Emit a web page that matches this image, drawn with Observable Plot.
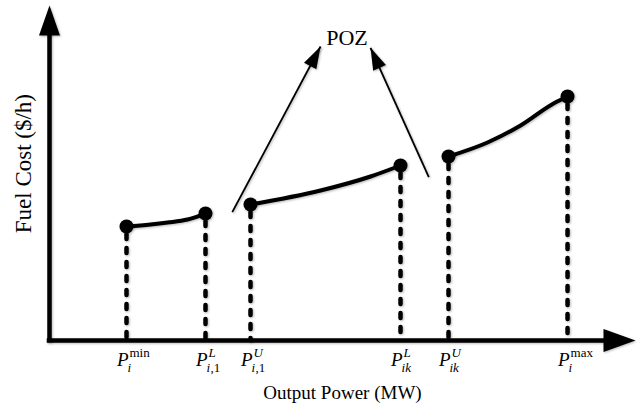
<!DOCTYPE html>
<html>
<head>
<meta charset="utf-8">
<script src="https://cdn.jsdelivr.net/npm/d3@7"></script>
<script src="https://cdn.jsdelivr.net/npm/@observablehq/plot@0.6"></script>
<style>
  html, body { margin: 0; padding: 0; background: #fff; }
  #chart svg { display: block; }
  #chart svg g[aria-label="line"],
  #chart svg g[aria-label="dot"],
  #chart svg g[aria-label="rule"],
  #chart svg g[aria-label="link"],
  #chart svg g[aria-label="vector"] {
    filter: drop-shadow(1.5px 1.5px 0.8px rgba(0,0,0,0.28));
  }
</style>
</head>
<body>
<div id="chart"></div>
<script>
// ---- data (schematic units: output power 0..100, fuel cost 0..100) ----
// Operating-region breakpoints
const breakX = [13.14, 26.62, 34.30, 59.90, 68.09, 88.40];
const breakY = [34.03, 37.91, 40.60, 52.24, 54.93, 72.84];
// Tick labels: P with superscript and subscript
const tickBase = ["P", "P", "P", "P", "P", "P"];
const tickSup = ["min", "L", "U", "L", "U", "max"];
const tickSupItalic = [false, true, true, true, true, false];
const tickSub = ["i", "i", "i", "ik", "ik", "i"];
const tickSubExtra = ["", ",1", ",1", "", "", ""];

// Cost curve segments
const seg1X = [13.14, 17.24, 20.14, 23.55, 26.62];
const seg1Y = [34.03, 34.63, 35.22, 36.12, 37.91];
const seg2X = [34.30, 46.25, 54.78, 59.90];
const seg2Y = [40.60, 44.78, 48.96, 52.24];
const seg3X = [68.09, 74.74, 80.38, 86.01, 88.40];
const seg3Y = [54.93, 59.10, 64.18, 70.75, 72.84];

// POZ annotation arrows
const pozFromX = [31.19, 64.73];
const pozFromY = [38.30, 48.75];
const pozToX = [46.25, 54.78];
const pozToY = [87.76, 87.37];
const pozLabel = ["POZ"];
const pozLabelX = [50.77];
const pozLabelY = [88.06];

// Axis titles
const xTitle = "Output Power (MW)";
const yTitle = "Fuel Cost ($/h)";
const xTitlePos = [50.0];
const yTitlePos = [52.8];

// ---- scales ----
const xDomain = [0, 100], xRange = [49, 635];
const yDomain = [0, 100], yRange = [340, 5];
const ppx = (xRange[1] - xRange[0]) / (xDomain[1] - xDomain[0]);
const ppy = (yRange[0] - yRange[1]) / (yDomain[1] - yDomain[0]);

const segs = [[seg1X, seg1Y], [seg2X, seg2Y], [seg3X, seg3Y]];
const curveRows = segs.flatMap(([xs, ys], s) => xs.map((x, i) => ({seg: s, x, y: ys[i]})));
const pts = breakX.map((x, i) => ({x, y: breakY[i], base: tickBase[i], sup: tickSup[i],
  supItalic: tickSupItalic[i], sub: tickSub[i], subExtra: tickSubExtra[i]}));
const poz = pozFromX.map((x1, i) => ({
  x1, y1: pozFromY[i], x2: pozToX[i], y2: pozToY[i],
  angle: Math.atan2((pozToX[i] - x1) * ppx, (pozToY[i] - pozFromY[i]) * ppy) * 180 / Math.PI
}));

const serif = "Liberation Serif, Times New Roman, serif";

const chart = Plot.plot({
  width: 642,
  height: 406,
  margin: 0,
  x: {domain: xDomain, range: xRange, axis: null},
  y: {domain: yDomain, range: yRange, axis: null},
  style: {background: "#fff", color: "#000"},
  marks: [
    // axes
    Plot.ruleY([0], {x1: 0, x2: 95, stroke: "#000", strokeWidth: 4.5, strokeLinecap: "square"}),
    Plot.ruleX([0], {y1: 0, y2: 92, stroke: "#000", strokeWidth: 4.5, strokeLinecap: "square"}),
    Plot.vector([{x: xDomain[1], y: 0}], {x: "x", y: "y", rotate: 90, length: 32, r: 11.5,
      shape: "spike", anchor: "end", fill: "#000", stroke: "none"}),
    Plot.vector([{x: 0, y: yDomain[1]}], {x: "x", y: "y", rotate: 0, length: 30, r: 10.5,
      shape: "spike", anchor: "end", fill: "#000", stroke: "none"}),
    // dashed drop lines
    Plot.ruleX(pts, {x: "x", y1: "y", y2: 0, stroke: "#000", strokeWidth: 4.5,
      strokeDasharray: "5,9", strokeDashoffset: -8, strokeLinecap: "round"}),
    // cost curves
    Plot.line(curveRows, {x: "x", y: "y", z: "seg", stroke: "#000", strokeWidth: 4,
      curve: "monotone-x"}),
    Plot.dot(pts, {x: "x", y: "y", r: 7, fill: "#000", stroke: "none"}),
    // POZ arrows
    Plot.link(poz, {x1: "x1", y1: "y1", x2: "x2", y2: "y2", stroke: "#000", strokeWidth: 1.8}),
    Plot.vector(poz, {x: "x2", y: "y2", rotate: "angle", length: 22, r: 7,
      shape: "spike", anchor: "end", fill: "#000", stroke: "none"}),
    Plot.text(pozLabel, {x: pozLabelX, y: pozLabelY, text: d => d, fontFamily: serif,
      fontSize: 22, lineAnchor: "bottom", textAnchor: "middle", fill: "#000"}),
    // tick labels
    Plot.text(pts, {x: "x", y: 0, text: "base", dy: 25, dx: 2, textAnchor: "end",
      lineAnchor: "bottom", fontFamily: serif, fontSize: 19, fontStyle: "italic", fill: "#000"}),
    Plot.text(pts.filter(d => d.supItalic), {x: "x", y: 0, text: "sup", dy: 16, dx: 3, textAnchor: "start",
      lineAnchor: "bottom", fontFamily: serif, fontSize: 13, fontStyle: "italic", fill: "#000"}),
    Plot.text(pts.filter(d => !d.supItalic), {x: "x", y: 0, text: "sup", dy: 16, dx: 3, textAnchor: "start",
      lineAnchor: "bottom", fontFamily: serif, fontSize: 13, fill: "#000"}),
    Plot.text(pts, {x: "x", y: 0, text: "sub", dy: 31, dx: 1, textAnchor: "start",
      lineAnchor: "bottom", fontFamily: serif, fontSize: 13, fontStyle: "italic", fill: "#000"}),
    Plot.text(pts, {x: "x", y: 0, text: "subExtra", dy: 31, dx: 5, textAnchor: "start",
      lineAnchor: "bottom", fontFamily: serif, fontSize: 13, fill: "#000"}),
    // axis titles
    Plot.text([xTitle], {x: xTitlePos, y: 0, text: d => d, dy: 58, textAnchor: "middle",
      lineAnchor: "bottom", fontFamily: serif, fontSize: 19, fill: "#000"}),
    Plot.text([yTitle], {x: 0, y: yTitlePos, text: d => d, dx: -19, rotate: -90, textAnchor: "middle",
      lineAnchor: "bottom", fontFamily: serif, fontSize: 23, fill: "#000"})
  ]
});
document.getElementById("chart").appendChild(chart);
</script>
</body>
</html>
